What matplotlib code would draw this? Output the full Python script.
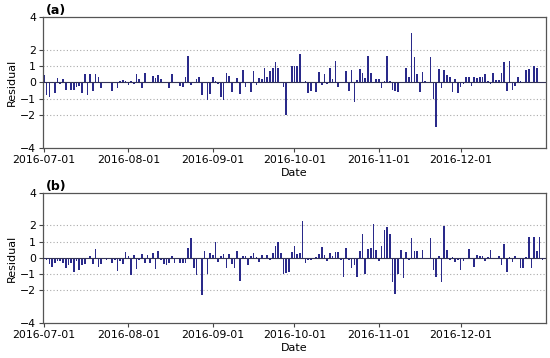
import matplotlib
matplotlib.use("Agg")
import matplotlib.pyplot as plt
import matplotlib.dates as mdates
import numpy as np
import pandas as pd

start_date = "2016-06-30"
tick_dates = ["2016-07-01", "2016-08-01", "2016-09-01", "2016-10-01", "2016-11-01", "2016-12-01"]
y_ticks = [-4, -2, -1, 0, 1, 2, 4]

resid_a = [
    0, 0.45, -0.8, -0.9, 0, -0.65, 0.25, -0.1, 0.2, -0.45,
    0, -0.45, -0.45, -0.3, -0.25, -0.65, 0.5, -0.8, 0.5, -0.5,
    0.5, 0.3, -0.35, 0, 0.05, -0.05, -0.55, 0, -0.35, 0.1,
    0.15, 0.1, -0.15, 0.1, -0.1, 0.5, 0.2, -0.35, 0.55, 0,
    0, 0.4, 0.25, 0.45, 0.2, 0, 0, -0.35, 0.5, -0.05,
    0, -0.2, -0.3, 0.3, 1.6, -0.15, 0, 0.2, 0.3, -0.8,
    0, -1.05, -0.7, 0.3, 0.1, -0.1, -0.9, -1.05, 0.55, 0.4,
    -0.6, 0.05, 0.25, -0.7, 0.75, -0.3, 0, -0.6, 0.7, -0.15,
    0.25, 0.2, 0.85, 0.3, 0.7, 0.9, 1.25, 0.85, 0.05, -0.3,
    -2.0, 0.05, 1.0, 1.0, 1.0, 1.7, 0, 0.1, -0.65, -0.55,
    0, -0.6, 0.65, -0.15, 0.5, -0.1, 0.85, 0.2, 1.3, -0.3,
    0, 0, 0.7, -0.55, 0.75, -1.2, 0.15, 0.8, 0.55, 0.25,
    1.6, 0.6, 0, 0.2, 0.2, -0.35, 0.1, 1.6, 0.1, -0.45,
    -0.55, -0.6, 0, 0, 0.85, 0.35, 3.0, 1.55, 0.5, -0.6,
    0.65, 0.1, 0.05, 1.55, -1.0, -2.7, 0.8, -0.35, 0.75, 0.45,
    0.35, -0.6, 0.2, -0.65, -0.3, -0.1, 0.3, 0.3, -0.2, 0.3,
    0.25, 0.3, 0.3, 0.5, 0.1, -0.1, 0.6, 0.15, 0.15, 0.55,
    1.25, -0.55, 1.3, -0.45, -0.2, 0.3, 0.1, 0, 0.75, 0.8,
    0.05, 1.0, 0.85, 0, 0,
]

resid_b = [
    0, -0.05, -0.15, -0.4, -0.55, -0.3, -0.2, -0.2, -0.3, -0.6,
    -0.45, -0.3, -0.85, -0.2, -0.75, -0.45, -0.4, 0, 0.1, -0.35,
    0.55, -0.55, -0.35, 0, -0.15, 0, -0.3, -0.15, -0.8, -0.2,
    -0.35, 0.35, 0.1, -1.05, 0.2, -0.7, -0.1, 0.25, -0.3, 0.2,
    -0.3, 0.3, -0.7, 0.4, -0.15, -0.4, -0.45, -0.3, 0.1, -0.3,
    0, -0.3, -0.3, -0.3, 0.6, 1.2, -0.6, -1.05, 0, -2.3,
    0.45, -1.0, 0.3, 0.2, 1.0, -0.25, 0.1, 0.25, -0.65, 0.25,
    -0.35, -0.65, 0.4, -1.45, 0.1, 0.15, -0.45, 0.1, 0.3, 0.05,
    -0.25, 0.2, 0, 0.2, -0.1, 0.3, 0.75, 1.0, 0.3, -1.0,
    -0.9, -0.85, 0.35, 0.75, 0.25, 0.3, 2.3, -0.3, -0.1, -0.15,
    0, 0.05, 0.25, 0.65, 0.2, -0.2, 0.3, 0.15, 0.35, 0.35,
    -0.1, -1.2, 0.6, -0.1, -0.6, -0.45, -1.15, 0.4, 1.5, -1.0,
    0.55, 0.6, 2.1, 0.5, -0.2, 0.75, 1.7, 1.9, 1.5, -1.5,
    -2.2, -1.0, 0.5, -1.25, 0.35, -0.1, 1.2, 0.4, 0.4, 0,
    0.5, -0.05, 0, 1.25, -0.75, -1.15, 0.15, -1.5, 1.95, 0.5,
    -0.1, 0.05, -0.25, -0.1, -0.75, -0.2, 0, 0.55, 0, -0.55,
    0.2, 0.15, 0.1, -0.2, 0.05, 0.5, 0, 0, 0.1, -0.45,
    0.85, -0.85, 0.05, -0.25, 0.1, 0, -0.6, -0.6, 0.05, 1.3,
    -0.6, 1.3, 0.4, 1.3, -0.15,
]

panels = ["(a)", "(b)"]

fig = plt.figure(figsize=(5.5, 3.58), dpi=100)
ax_a = fig.add_axes([0.078, 0.587, 0.915, 0.366])
ax_b = fig.add_axes([0.078, 0.098, 0.915, 0.363])

bar_color = "#2a2a8a"
t0 = pd.Timestamp(start_date)
for ax, vals, label in zip([ax_a, ax_b], [resid_a, resid_b], panels):
    dates = pd.date_range(start_date, periods=len(vals), freq="D")
    ax.bar(dates, vals, width=0.6, color=bar_color, linewidth=0)
    ax.axhline(0, color="#333355", linewidth=0.8, zorder=3)
    ax.set_ylim(-4, 4)
    ax.set_yticks(y_ticks)
    ax.set_xlim(t0 + pd.Timedelta(days=0.63), t0 + pd.Timedelta(days=185.4))
    ax.set_xticks(pd.to_datetime(tick_dates))
    ax.xaxis.set_major_formatter(mdates.DateFormatter("%Y-%m-%d"))
    for yv in [-2, -1, 1, 2]:
        ax.axhline(yv, color="#aaaaaa", linestyle=(0, (1, 2)), linewidth=0.8, zorder=0)
    ax.tick_params(labelsize=7.8, length=3, color="#444444", pad=2)
    for s in ax.spines.values():
        s.set_color("#555555")
        s.set_linewidth(0.9)
    ax.set_ylabel("Residual", fontsize=8, labelpad=2)
    ax.set_xlabel("Date", fontsize=8, labelpad=2)
    ax.set_title(label, loc="left", fontsize=9, fontweight="bold", pad=1, x=0.005)

fig.savefig("out.png", dpi=100)
